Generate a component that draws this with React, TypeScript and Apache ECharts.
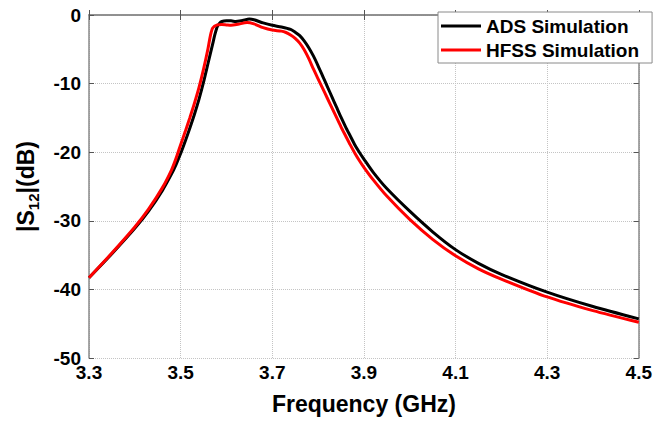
import { useEffect, useRef } from "react";
import * as echarts from "echarts";

const X_START = 3.3;
const X_END = 4.5;
const xTickStep = 0.2;
const yMin = -50;
const yMax = 0;
const yTickStep = 10;

const seriesNames = ["ADS Simulation", "HFSS Simulation"];

const adsFreq = [3.30, 3.35, 3.40, 3.43, 3.46, 3.48, 3.49, 3.50, 3.51, 3.52, 3.53, 3.54, 3.55, 3.56, 3.57, 3.575, 3.58, 3.585, 3.59, 3.60, 3.61, 3.62, 3.635, 3.65, 3.66, 3.68, 3.70, 3.72, 3.74, 3.75, 3.76, 3.77, 3.78, 3.79, 3.80, 3.81, 3.82, 3.83, 3.84, 3.85, 3.86, 3.87, 3.88, 3.89, 3.90, 3.92, 3.95, 4.00, 4.05, 4.10, 4.15, 4.20, 4.30, 4.40, 4.50];
const adsDb = [-38.3, -34.8, -31.1, -28.6, -25.6, -23.2, -21.8, -20.2, -18.4, -16.5, -14.5, -12.3, -9.8, -7.0, -4.2, -2.8, -1.7, -1.2, -0.95, -0.85, -0.85, -0.95, -0.8, -0.6, -0.7, -1.15, -1.5, -1.75, -2.1, -2.5, -3.0, -3.8, -4.8, -6.0, -7.4, -8.9, -10.4, -11.9, -13.4, -14.9, -16.3, -17.6, -18.9, -20.0, -21.0, -22.9, -25.3, -28.6, -31.6, -34.2, -36.2, -37.8, -40.4, -42.5, -44.3];

const hfssFreq = [3.30, 3.35, 3.40, 3.43, 3.46, 3.48, 3.49, 3.50, 3.51, 3.52, 3.53, 3.54, 3.55, 3.56, 3.565, 3.57, 3.58, 3.59, 3.60, 3.61, 3.625, 3.645, 3.66, 3.68, 3.70, 3.72, 3.73, 3.74, 3.75, 3.76, 3.77, 3.78, 3.79, 3.80, 3.81, 3.82, 3.83, 3.84, 3.85, 3.86, 3.87, 3.88, 3.89, 3.90, 3.92, 3.95, 4.00, 4.05, 4.10, 4.15, 4.20, 4.30, 4.40, 4.50];
const hfssDb = [-38.3, -34.7, -30.9, -28.3, -25.2, -22.6, -20.9, -18.9, -17.0, -15.0, -12.9, -10.6, -7.9, -4.8, -3.0, -1.9, -1.45, -1.4, -1.45, -1.5, -1.35, -1.1, -1.3, -1.85, -2.2, -2.35, -2.55, -2.9, -3.4, -4.1, -5.1, -6.4, -7.9, -9.3, -10.7, -12.1, -13.5, -14.9, -16.3, -17.6, -18.9, -20.1, -21.2, -22.2, -24.0, -26.4, -29.8, -32.7, -35.1, -37.0, -38.5, -41.1, -43.1, -44.8];

const FONT = "'Liberation Sans', Arial, Helvetica, sans-serif";

// x axis is drawn in offset space (f - X_START) so ticks start exactly at 3.3
const toPairs = (fs: number[], vs: number[]) => fs.map((f, i) => [f - X_START, vs[i]]);

export default function App() {
  const ref = useRef<HTMLDivElement>(null);
  useEffect(() => {
    if (!ref.current) return;
    const chart = echarts.init(ref.current, undefined, { renderer: "svg" });
    const axisLineStyle = { color: "#8a8a8a", width: 1.5 };
    const span = +(X_END - X_START).toFixed(6);
    const xCommon = {
      type: "value" as const,
      min: 0,
      max: span,
      interval: xTickStep,
      axisLine: { show: true, lineStyle: axisLineStyle },
      axisTick: { show: true, inside: true, length: 5, lineStyle: { color: "#555", width: 1 } },
    };
    const yCommon = {
      type: "value" as const,
      min: yMin,
      max: yMax,
      interval: yTickStep,
      axisLine: { show: true, onZero: false, lineStyle: axisLineStyle },
      axisTick: { show: true, inside: true, length: 5, lineStyle: { color: "#555", width: 1 } },
    };
    chart.setOption({
      animation: false,
      backgroundColor: "#ffffff",
      grid: { left: 89, right: 14, top: 15, bottom: 67, containLabel: false },
      legend: {
        data: seriesNames,
        orient: "vertical",
        left: 438,
        top: 12,
        icon: "rect",
        itemWidth: 40,
        itemHeight: 3,
        itemGap: 4,
        padding: [4, 13, 3, 3],
        backgroundColor: "#ffffff",
        borderColor: "#8a8a8a",
        borderWidth: 1,
        borderRadius: 0,
        textStyle: { color: "#000", fontSize: 19, fontWeight: "bold", fontFamily: FONT, lineHeight: 20 },
      },
      xAxis: [
        {
          ...xCommon,
          position: "bottom",
          name: "Frequency (GHz)",
          nameLocation: "middle",
          nameGap: 34,
          nameTextStyle: { color: "#000", fontSize: 23, fontWeight: "bold", fontFamily: FONT },
          axisLabel: {
            color: "#000",
            fontSize: 19,
            fontWeight: "bold",
            fontFamily: FONT,
            margin: 5,
            formatter: (v: number) => (v + X_START).toFixed(1),
          },
          splitLine: { show: true, lineStyle: { color: "#c4c4c4", type: "dotted", width: 1 } },
        },
        {
          ...xCommon,
          position: "top",
          axisLabel: { show: false },
          splitLine: { show: false },
        },
      ],
      yAxis: [
        {
          ...yCommon,
          position: "left",
          name: "{a||S}{b|12}{a||(dB)}",
          nameLocation: "middle",
          nameRotate: 90,
          nameGap: 48,
          nameTextStyle: {
            color: "#000",
            fontFamily: FONT,
            rich: {
              a: { fontSize: 23, fontWeight: "bold", fontFamily: FONT, color: "#000", lineHeight: 30 },
              b: { fontSize: 15, fontWeight: "bold", fontFamily: FONT, color: "#000", lineHeight: 15, verticalAlign: "bottom" },
            },
          },
          axisLabel: { color: "#000", fontSize: 19, fontWeight: "bold", fontFamily: FONT, margin: 8 },
          splitLine: { show: true, lineStyle: { color: "#c4c4c4", type: "dotted", width: 1 } },
        },
        {
          ...yCommon,
          position: "right",
          axisLabel: { show: false },
          splitLine: { show: false },
        },
      ],
      series: [
        {
          name: seriesNames[0],
          type: "line",
          data: toPairs(adsFreq, adsDb),
          showSymbol: false,
          symbol: "none",
          smooth: 0.25,
          lineStyle: { color: "#000000", width: 3 },
          itemStyle: { color: "#000000" },
          xAxisIndex: 0,
          yAxisIndex: 0,
        },
        {
          name: seriesNames[1],
          type: "line",
          data: toPairs(hfssFreq, hfssDb),
          showSymbol: false,
          symbol: "none",
          smooth: 0.25,
          lineStyle: { color: "#ff0000", width: 3 },
          itemStyle: { color: "#ff0000" },
          xAxisIndex: 0,
          yAxisIndex: 0,
        },
      ],
    });
    return () => chart.dispose();
  }, []);
  return (
    <div
      ref={ref}
      style={{ position: "absolute", left: 0, top: 0, width: 655, height: 425, background: "#fff" }}
    />
  );
}
